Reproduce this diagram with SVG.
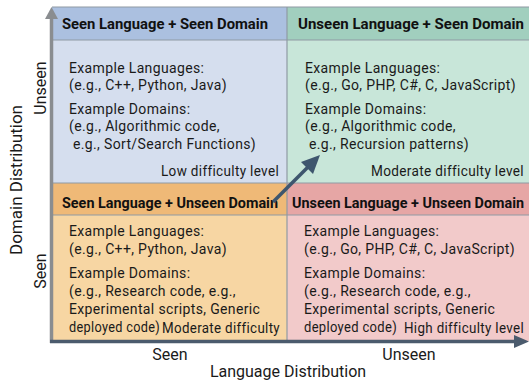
<svg xmlns="http://www.w3.org/2000/svg" width="529" height="383" viewBox="0 0 529 383">
<style>
.hd{font-family:Roboto,"Liberation Sans",sans-serif;font-weight:bold;font-size:14.5px;fill:#111}
.bd{font-family:Roboto,"Liberation Sans",sans-serif;font-size:14px;letter-spacing:0.35px;fill:#1a1a1a}
.ax{font-family:Roboto,"Liberation Sans",sans-serif;font-size:16px;fill:#1a1a1a}
.sep{stroke:#8f9aa3;stroke-width:1.2}
</style>
<rect width="529" height="383" fill="#fff"/>
<g id="q-seen-seen">
<rect x="52" y="7" width="235" height="176" fill="#d5deee"/>
<rect x="52" y="7" width="235" height="33" fill="#abc0e0"/>
<line class="sep" x1="52" y1="40" x2="287" y2="40"/>
<text class="hd" x="62" y="29" textLength="206" lengthAdjust="spacingAndGlyphs">Seen Language + Seen Domain</text>
<text class="bd" x="69" y="73">Example Languages:</text>
<text class="bd" x="69" y="90">(e.g., C++, Python, Java)</text>
<text class="bd" x="69" y="114">Example Domains:</text>
<text class="bd" x="69" y="131">(e.g., Algorithmic code,</text>
<text class="bd" x="73" y="149">e.g., Sort/Search Functions)</text>
<text class="bd" x="161" y="176" textLength="118" lengthAdjust="spacingAndGlyphs">Low difficulty level</text>
</g>
<g id="q-unseen-seen">
<rect x="287" y="7" width="242" height="176" fill="#c8e6d9"/>
<rect x="287" y="7" width="242" height="33" fill="#a1cfbe"/>
<line class="sep" x1="287" y1="40" x2="529" y2="40"/>
<text class="hd" x="298" y="29" textLength="226" lengthAdjust="spacingAndGlyphs">Unseen Language + Seen Domain</text>
<text class="bd" x="305" y="73">Example Languages:</text>
<text class="bd" x="305" y="90">(e.g., Go, PHP, C#, C, JavaScript)</text>
<text class="bd" x="305" y="114">Example Domains:</text>
<text class="bd" x="305" y="131">(e.g., Algorithmic code,</text>
<text class="bd" x="309" y="149">e.g., Recursion patterns)</text>
<text class="bd" x="371" y="176" textLength="153" lengthAdjust="spacingAndGlyphs">Moderate difficulty level</text>
</g>
<g id="q-seen-unseen">
<rect x="52" y="183" width="235" height="158" fill="#f7d6a3"/>
<rect x="52" y="183" width="235" height="32" fill="#efb977"/>
<line class="sep" x1="52" y1="215" x2="287" y2="215"/>
<text class="hd" x="62" y="208" textLength="216" lengthAdjust="spacingAndGlyphs">Seen Language + Unseen Domain</text>
<text class="bd" x="69" y="236">Example Languages:</text>
<text class="bd" x="69" y="254">(e.g., C++, Python, Java)</text>
<text class="bd" x="69" y="278">Example Domains:</text>
<text class="bd" x="69" y="296">(e.g., Research code, e.g.,</text>
<text class="bd" x="69" y="314">Experimental scripts, Generic</text>
<text class="bd" x="69" y="332" textLength="91" lengthAdjust="spacingAndGlyphs">deployed code)</text>
<text class="bd" x="162" y="333" textLength="118" lengthAdjust="spacingAndGlyphs">Moderate difficulty</text>
</g>
<g id="q-unseen-unseen">
<rect x="287" y="183" width="242" height="158" fill="#f2caca"/>
<rect x="287" y="183" width="242" height="32" fill="#e6a6a5"/>
<line class="sep" x1="287" y1="215" x2="529" y2="215"/>
<text class="hd" x="292" y="208" textLength="232" lengthAdjust="spacingAndGlyphs">Unseen Language + Unseen Domain</text>
<text class="bd" x="304" y="236">Example Languages:</text>
<text class="bd" x="304" y="254">(e.g., Go, PHP, C#, C, JavaScript)</text>
<text class="bd" x="304" y="278">Example Domains:</text>
<text class="bd" x="304" y="296">(e.g., Research code, e.g.,</text>
<text class="bd" x="304" y="314">Experimental scripts, Generic</text>
<text class="bd" x="304" y="332" textLength="93" lengthAdjust="spacingAndGlyphs">deployed code)</text>
<text class="bd" x="404" y="333" textLength="120" lengthAdjust="spacingAndGlyphs">High difficulty level</text>
</g>
<g id="grid">
<line class="sep" x1="52" y1="7" x2="529" y2="7"/>
<line class="sep" x1="287" y1="7" x2="287" y2="341"/>
<line class="sep" x1="52" y1="183" x2="529" y2="183"/>
</g>
<g id="axes">
<line x1="51.5" y1="343" x2="51.5" y2="18" stroke="#8a8d90" stroke-width="3.5"/>
<path d="M45,19 L58,19 L51.5,7 z" fill="#8a8d90"/>
<line x1="50" y1="341.5" x2="516" y2="341.5" stroke="#4b5b6d" stroke-width="3.5"/>
<path d="M514,335 L529,341.5 L514,348 z" fill="#4b5b6d"/>
<text class="ax" x="170" y="360" text-anchor="middle">Seen</text>
<text class="ax" x="409" y="360" text-anchor="middle">Unseen</text>
<text class="ax" x="288" y="377" text-anchor="middle">Language Distribution</text>
<text class="ax" style="font-size:17px" transform="translate(22,180) rotate(-90)" text-anchor="middle">Domain Distribution</text>
<text class="ax" transform="translate(46,88) rotate(-90)" text-anchor="middle">Unseen</text>
<text class="ax" transform="translate(46,271) rotate(-90)" text-anchor="middle">Seen</text>
</g>
<g id="connectors">
<line x1="273" y1="202" x2="310" y2="165" stroke="#3e566e" stroke-width="3.5"/>
<path d="M320,155 L313,174 L301,162 z" fill="#3e566e"/>
</g>
</svg>
